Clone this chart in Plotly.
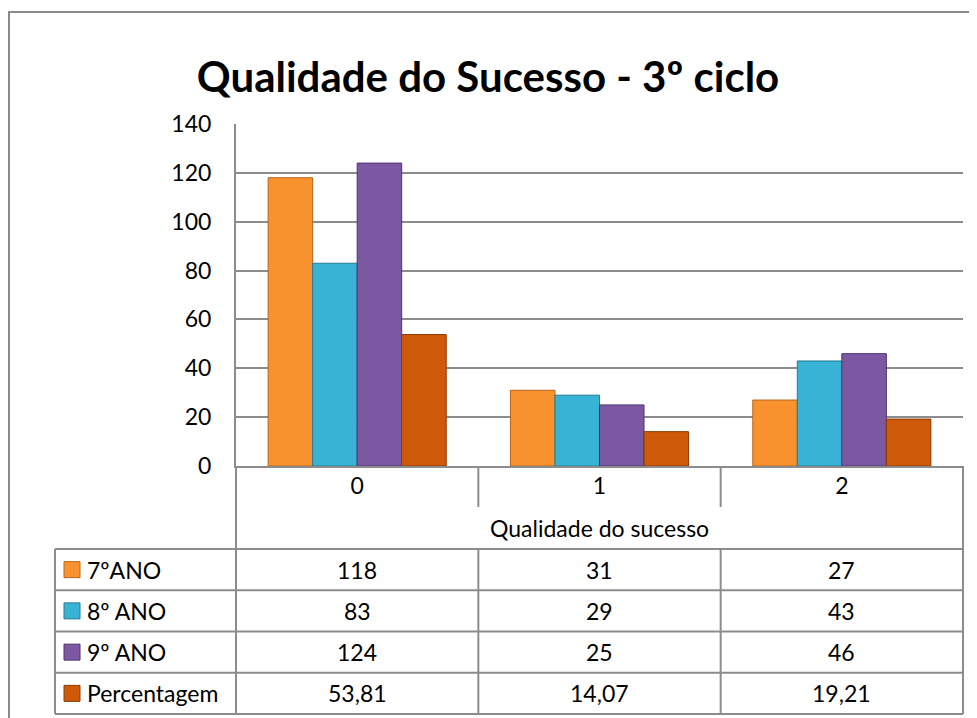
import plotly.graph_objects as go

# data
categories = ["0", "1", "2"]
series_names = ["7ºANO", "8º ANO", "9º ANO", "Percentagem"]
series_values = [
    [118, 31, 27],
    [83, 29, 43],
    [124, 25, 46],
    [53.81, 14.07, 19.21],
]
table_labels = [
    ["118", "31", "27"],
    ["83", "29", "43"],
    ["124", "25", "46"],
    ["53,81", "14,07", "19,21"],
]
y_ticks = [0, 20, 40, 60, 80, 100, 120, 140]

colors = ["#F7922F", "#38B2D5", "#7C58A3", "#CE5A09"]
edge_colors = ["#B8651C", "#237C96", "#4E3570", "#8A3A04"]

# the page body has an 8px margin, so the figure is shrunk by that much
OFF = 8
W, H = 977 - OFF, 718 - OFF
# plot area in screen pixels (as measured on the reference)
PL, PR, PT, PB = 236, 963, 124, 466
GRID = "#8c8c8c"
FONT = "Lato"
TXT = 23


def px(x):
    return (x - PL) / (PR - PL)


def py(y):
    return (PB - y) / (PB - PT)


fig = go.Figure()

for name, vals, c, ec in zip(series_names, series_values, colors, edge_colors):
    fig.add_trace(
        go.Bar(
            x=categories,
            y=vals,
            name=name,
            marker=dict(color=c, line=dict(color=ec, width=1)),
            showlegend=False,
        )
    )

shapes = []
annotations = []

# outer chart border
shapes.append(dict(type="rect", xref="paper", yref="paper",
                   x0=px(9), x1=px(1010), y0=py(12), y1=py(740),
                   line=dict(color="#8a8a8a", width=2), layer="below"))

# data table geometry
tbl_left = 55
cat_row_bottom = 507
title_row_bottom = 549
row_h = (714 - title_row_bottom) / len(series_names)
row_lines = [title_row_bottom + i * row_h for i in range(len(series_names) + 1)]
col_w = (PR - PL) / len(categories)
col_lines = [PL + i * col_w for i in range(len(categories) + 1)]

line = dict(color=GRID, width=2)


def vline(x, y0, y1):
    shapes.append(dict(type="line", xref="paper", yref="paper",
                       x0=px(x), x1=px(x), y0=py(y0), y1=py(y1), line=line))


# horizontal table lines
for yl in row_lines:
    shapes.append(dict(type="line", xref="paper", yref="paper",
                       x0=px(tbl_left), x1=px(PR), y0=py(yl), y1=py(yl), line=line))

# vertical table lines
vline(tbl_left, row_lines[0], row_lines[-1])
for i, xl in enumerate(col_lines):
    if i in (0, len(col_lines) - 1):
        vline(xl, PB, row_lines[-1])
    else:
        vline(xl, PB, cat_row_bottom)
        vline(xl, row_lines[0], row_lines[-1])

# axis title inside table
annotations.append(dict(text="Qualidade do sucesso", xref="paper", yref="paper",
                        x=0.5, y=py(528), xanchor="center", yanchor="middle",
                        showarrow=False, font=dict(size=TXT, color="#000", family=FONT)))

# table rows: legend key + label + values
for r, name in enumerate(series_names):
    yc = (row_lines[r] + row_lines[r + 1]) / 2
    shapes.append(dict(type="rect", xref="paper", yref="paper",
                       x0=px(64), x1=px(80), y0=py(yc - 8), y1=py(yc + 8),
                       fillcolor=colors[r], line=dict(color=edge_colors[r], width=1)))
    annotations.append(dict(text=name, xref="paper", yref="paper",
                            x=px(85), y=py(yc), xanchor="left", yanchor="middle",
                            showarrow=False, font=dict(size=TXT, color="#000", family=FONT)))
    for ci, cat in enumerate(categories):
        annotations.append(dict(text=table_labels[r][ci], xref="x", yref="paper",
                                x=cat, y=py(yc), xanchor="center", yanchor="middle",
                                showarrow=False, font=dict(size=TXT, color="#000", family=FONT)))

fig.update_layout(
    width=W,
    height=H,
    margin=dict(l=PL - OFF, r=W - (PR - OFF), t=PT - OFF, b=H - (PB - OFF)),
    paper_bgcolor="white",
    plot_bgcolor="white",
    barmode="group",
    bargap=0.265,
    bargroupgap=0,
    title=dict(
        text="<b>Qualidade do Sucesso - 3º ciclo</b>",
        x=(488 - OFF) / W, xref="container", xanchor="center",
        y=1 - (77 - OFF) / H, yref="container", yanchor="middle",
        font=dict(size=42, color="#000", family=FONT),
    ),
    xaxis=dict(
        type="category",
        range=[-0.5, 2.5],
        showline=True, linecolor=GRID, linewidth=2,
        showgrid=False,
        ticks="",
        tickfont=dict(size=TXT, color="#000", family=FONT),
        ticklabelstandoff=-2,
    ),
    yaxis=dict(
        range=[0, 140],
        tickvals=y_ticks,
        showline=True, linecolor=GRID, linewidth=2,
        showgrid=True, gridcolor=GRID, gridwidth=1.5,
        zeroline=False,
        ticks="",
        tickfont=dict(size=TXT, color="#000", family=FONT),
        ticklabelstandoff=18,
    ),
    shapes=shapes,
    annotations=annotations,
)

fig.write_html("out.html")
